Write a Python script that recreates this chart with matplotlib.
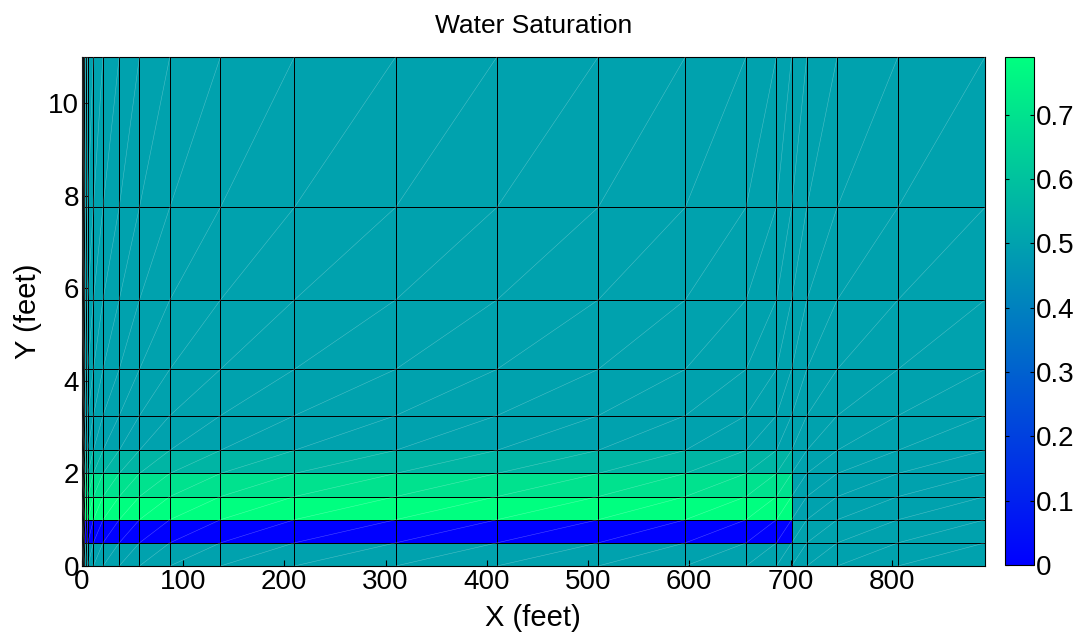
import numpy as np
import matplotlib
matplotlib.use('Agg')
import matplotlib.pyplot as plt
from matplotlib.collections import LineCollection
from matplotlib.ticker import FuncFormatter

plt.rcParams['font.family'] = ['Liberation Sans', 'DejaVu Sans']

# Grid cell edges (feet)
x_edges = [0, 1.2, 2.5, 4.3, 6, 11.5, 21, 37, 57, 87, 137, 210, 310, 410,
           510, 596, 656, 686, 701, 716, 746, 806, 892]
y_edges = [0, 0.5, 1.0, 1.5, 2.0, 2.5, 3.25, 4.25, 5.75, 7.75, 11]

# Water saturation per layer behind the flood front, background elsewhere
sw_background = 0.50
sw_swept = [0.50, 0.0, 0.79, 0.70, 0.56, 0.50, 0.50, 0.50, 0.50, 0.50]
front_x = 701

x_ticks = [0, 100, 200, 300, 400, 500, 600, 700, 800]
y_ticks = [0, 2, 4, 6, 8, 10]
cb_ticks = [0, 0.1, 0.2, 0.3, 0.4, 0.5, 0.6, 0.7]

xe = np.array(x_edges)
ye = np.array(y_edges)
xc = 0.5 * (xe[:-1] + xe[1:])
S = np.full((len(ye) - 1, len(xe) - 1), sw_background)
for j in range(len(ye) - 1):
    S[j, xc < front_x] = sw_swept[j]

fig = plt.figure(figsize=(10.8, 6.39), dpi=100)
ax = fig.add_axes([81.7/1080, 73/639, (985-81.7)/1080, (566-57)/639])

mesh = ax.pcolormesh(xe, ye, S, cmap='winter', vmin=0, vmax=0.79,
                     edgecolors='k', linewidth=0.7)

# faint triangulation diagonals
segs = []
for i in range(len(xe) - 1):
    for j in range(len(ye) - 1):
        segs.append([(xe[i], ye[j]), (xe[i+1], ye[j+1])])
ax.add_collection(LineCollection(segs, colors='white', linewidths=0.4,
                                 alpha=0.3, zorder=3))

ax.set_xlim(0, 892)
ax.set_ylim(0, 11)
ax.set_xticks(x_ticks)
ax.set_yticks(y_ticks)
ax.tick_params(direction='in', labelsize=20, length=4, pad=2)
ax.set_title('Water Saturation', fontsize=19, pad=17)
ax.set_xlabel('X (feet)', fontsize=21, labelpad=7)
ax.set_ylabel('Y (feet)', fontsize=21, labelpad=4)

cax = fig.add_axes([1005/1080, 74/639, 29/1080, (565-57)/639])
cb = fig.colorbar(mesh, cax=cax)
cb.set_ticks(cb_ticks)
cb.ax.yaxis.set_major_formatter(FuncFormatter(lambda v, p: '%g' % round(v, 2)))
cb.ax.tick_params(direction='in', left=True, right=True, length=3,
                  labelsize=20, pad=1)
cb.outline.set_linewidth(0.8)

fig.savefig('out.png', dpi=100)
